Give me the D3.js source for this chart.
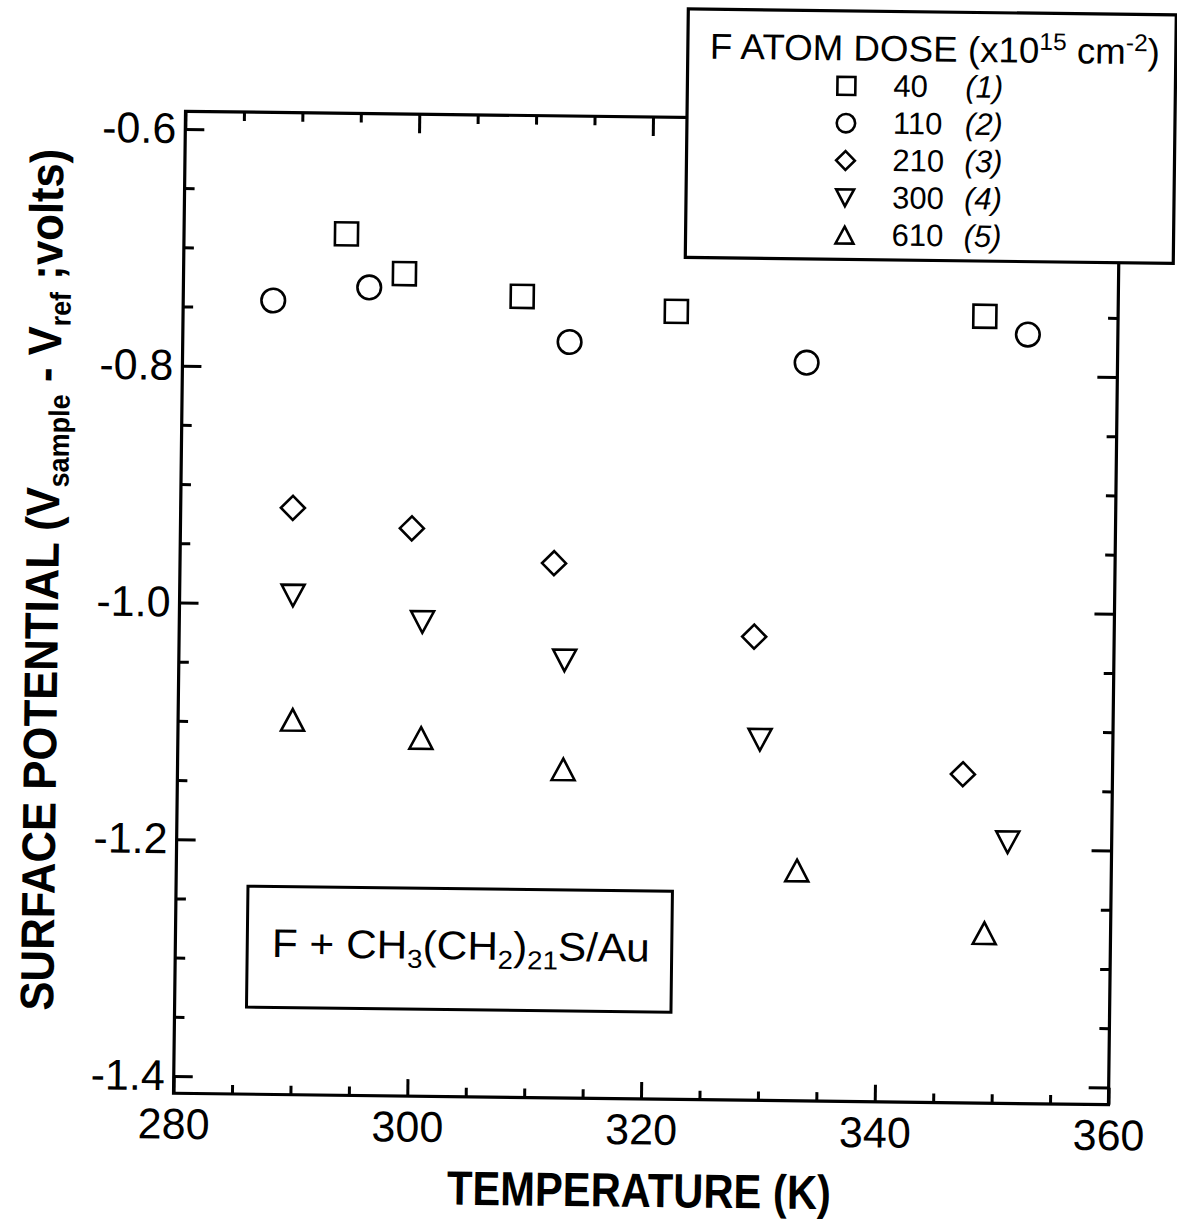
<!DOCTYPE html>
<html>
<head>
<meta charset="utf-8">
<script src="https://cdn.jsdelivr.net/npm/d3@7"></script>
<style>
  body { margin: 0; background: #fff; }
  svg { font-family: "Liberation Sans", Arial, sans-serif; }
  .tick line { stroke: #000; stroke-width: 3; }
  .tick text { font-size: 43px; fill: #000; }
  .mark { fill: none; stroke: #000; stroke-width: 2.6; }
  .frame { fill: none; stroke: #000; stroke-width: 3.2; }
</style>
</head>
<body>
<div id="chart"></div>
<script>
// values
var doses = ["40", "110", "210", "300", "610"];
var doseTags = ["(1)", "(2)", "(3)", "(4)", "(5)"];
var shapes = ["square", "circle", "diamond", "down", "up"];

var temp1 = [293.9, 298.9, 309.0, 322.2, 348.6];
var volt1 = [-0.687, -0.720, -0.738, -0.749, -0.750];
var temp2 = [287.7, 295.9, 313.1, 333.4, 352.3];
var volt2 = [-0.744, -0.732, -0.776, -0.791, -0.765];
var temp3 = [289.6, 299.8, 312.0, 329.2, 347.2];
var volt3 = [-0.919, -0.935, -0.963, -1.023, -1.137];
var temp4 = [289.7, 300.8, 313.0, 329.8, 351.1];
var volt4 = [-0.993, -1.014, -1.045, -1.110, -1.194];
var temp5 = [289.8, 300.8, 313.0, 333.1, 349.2];
var volt5 = [-1.098, -1.112, -1.137, -1.220, -1.271];

var xMajor = [280, 300, 320, 340, 360];
var xMinor = d3.range(285, 360, 5).filter(d => d % 20 != 0);
var yMajor = [-0.6, -0.8, -1.0, -1.2, -1.4];
var yMinor = [-0.65, -0.7, -0.75, -0.85, -0.9, -0.95, -1.05, -1.1, -1.15, -1.25, -1.3, -1.35];

var series = [
  {temps: temp1, volts: volt1},
  {temps: temp2, volts: volt2},
  {temps: temp3, volts: volt3},
  {temps: temp4, volts: volt4},
  {temps: temp5, volts: volt5}
];

var width = 1177, height = 1224;
var plotLeft = 179.5, plotRight = 1114.5, plotTop = 117, plotBottom = 1099;
var tilt = 0.7; // the scan is a little crooked

var x = d3.scaleLinear().domain([280, 360]).range([plotLeft, plotRight]);
var y = d3.scaleLinear().domain([-0.6, -1.4]).range([134.6, 1081.7]);

var svg = d3.select("#chart").append("svg")
  .attr("width", width)
  .attr("height", height);

var g = svg.append("g")
  .attr("transform", `rotate(${tilt}, 647, 608)`);

/* marker shapes */
function shapePath(kind, s) {
  var h = 11.5 * s;
  if (kind == "square") return `M${-h},${-h}h${2*h}v${2*h}h${-2*h}Z`;
  if (kind == "diamond") { var d = 12 * s; return `M0,${-d}L${d},0L0,${d}L${-d},0Z`; }
  if (kind == "up") { var w = 11.5 * s, t = 10.8 * s; return `M0,${-t}L${w},${t}L${-w},${t}Z`; }
  if (kind == "down") { var w = 11.5 * s, t = 10.8 * s; return `M0,${t}L${w},${-t}L${-w},${-t}Z`; }
  var r = 11.8 * s;
  return `M${r},0A${r},${r} 0 1,1 ${-r},0A${r},${r} 0 1,1 ${r},0Z`;
}

/* axes: ticks point inward */
function cleanAxis(sel) {
  sel.select(".domain").remove();
  sel.attr("font-family", null).attr("font-size", null);
}

g.append("g").attr("transform", `translate(${plotLeft},0)`)
  .call(d3.axisLeft(y).tickValues(yMajor).tickSize(-19).tickPadding(9).tickFormat(d => d.toFixed(1)))
  .call(cleanAxis);
g.append("g").attr("transform", `translate(${plotLeft},0)`)
  .call(d3.axisLeft(y).tickValues(yMinor).tickSize(-10).tickFormat(""))
  .call(cleanAxis);
g.append("g").attr("transform", `translate(${plotRight},0)`)
  .call(d3.axisRight(y).tickValues(yMajor).tickSize(-20).tickFormat(""))
  .call(cleanAxis);
g.append("g").attr("transform", `translate(${plotRight},0)`)
  .call(d3.axisRight(y).tickValues(yMinor).tickSize(-10).tickFormat(""))
  .call(cleanAxis);

g.append("g").attr("transform", `translate(0,${plotBottom})`)
  .call(d3.axisBottom(x).tickValues(xMajor).tickSize(-17).tickPadding(15).tickFormat(d3.format("d")))
  .call(cleanAxis);
g.append("g").attr("transform", `translate(0,${plotBottom})`)
  .call(d3.axisBottom(x).tickValues(xMinor).tickSize(-9).tickFormat(""))
  .call(cleanAxis);
g.append("g").attr("transform", `translate(0,${plotTop})`)
  .call(d3.axisTop(x).tickValues(xMajor).tickSize(-19).tickFormat(""))
  .call(cleanAxis);
g.append("g").attr("transform", `translate(0,${plotTop})`)
  .call(d3.axisTop(x).tickValues(xMinor).tickSize(-9).tickFormat(""))
  .call(cleanAxis);

g.append("rect")
  .attr("class", "frame")
  .attr("x", plotLeft).attr("y", plotTop)
  .attr("width", plotRight - plotLeft).attr("height", plotBottom - plotTop);

/* data points */
series.forEach(function(s, i) {
  g.append("g").selectAll("path")
    .data(s.temps.map((t, j) => ({t: t, v: s.volts[j]})))
    .enter().append("path")
    .attr("class", "mark")
    .attr("transform", d => `translate(${x(d.t)},${y(d.v)})`)
    .attr("d", shapePath(shapes[i], 1));
});

/* axis titles */
g.append("text")
  .attr("x", 646).attr("y", 1207)
  .attr("text-anchor", "middle")
  .attr("font-size", 48).attr("font-weight", "bold")
  .attr("textLength", 384).attr("lengthAdjust", "spacingAndGlyphs")
  .text("TEMPERATURE (K)");

var yt = g.append("text")
  .attr("transform", "translate(58,587) rotate(-90)")
  .attr("text-anchor", "middle")
  .attr("font-size", 47).attr("font-weight", "bold")
  .attr("textLength", 862).attr("lengthAdjust", "spacingAndGlyphs");
yt.append("tspan").text("SURFACE POTENTIAL (V");
yt.append("tspan").attr("font-size", 29).attr("dy", 9).text("sample");
yt.append("tspan").attr("dy", -9).text(" - V");
yt.append("tspan").attr("font-size", 29).attr("dy", 9).text("ref");
yt.append("tspan").attr("dy", -9).text(" ;volts)");

/* legend */
var lg = g.append("g");
lg.append("rect")
  .attr("x", 681).attr("y", 8.5)
  .attr("width", 488).attr("height", 248.5)
  .attr("fill", "#fff").attr("stroke", "#000").attr("stroke-width", 3.2);

var lt = lg.append("text")
  .attr("x", 703).attr("y", 58)
  .attr("font-size", 36)
  .attr("textLength", 450).attr("lengthAdjust", "spacingAndGlyphs");
lt.append("tspan").text("F ATOM DOSE (x10");
lt.append("tspan").attr("font-size", 24).attr("dy", -13).text("15");
lt.append("tspan").attr("dy", 13).text(" cm");
lt.append("tspan").attr("font-size", 24).attr("dy", -13).text("-2");
lt.append("tspan").attr("dy", 13).text(")");

var rows = lg.selectAll(".row")
  .data(doses).enter().append("g")
  .attr("class", "row")
  .attr("transform", (d, i) => `translate(0,${83.5 + i * 37.3})`);
rows.append("path")
  .attr("class", "mark")
  .attr("stroke-width", 3)
  .attr("transform", "translate(840,0)")
  .attr("d", (d, i) => shapePath(shapes[i], 0.78));
rows.append("text")
  .attr("x", 887).attr("y", 10)
  .attr("font-size", 31)
  .text(d => d);
rows.append("text")
  .attr("x", 959).attr("y", 10)
  .attr("font-size", 31).attr("font-style", "italic")
  .text((d, i) => doseTags[i]);

/* sample label */
var box = g.append("g");
box.append("rect")
  .attr("x", 251.4).attr("y", 891)
  .attr("width", 424.5).attr("height", 121)
  .attr("fill", "#fff").attr("stroke", "#000").attr("stroke-width", 3);
var bt = box.append("text")
  .attr("x", 276).attr("y", 961.6)
  .attr("font-size", 40)
  .attr("textLength", 378).attr("lengthAdjust", "spacingAndGlyphs");
bt.append("tspan").text("F + CH");
bt.append("tspan").attr("font-size", 26).attr("dy", 9).text("3");
bt.append("tspan").attr("dy", -9).text("(CH");
bt.append("tspan").attr("font-size", 26).attr("dy", 9).text("2");
bt.append("tspan").attr("dy", -9).text(")");
bt.append("tspan").attr("font-size", 26).attr("dy", 9).text("21");
bt.append("tspan").attr("dy", -9).text("S/Au");
</script>
</body>
</html>
